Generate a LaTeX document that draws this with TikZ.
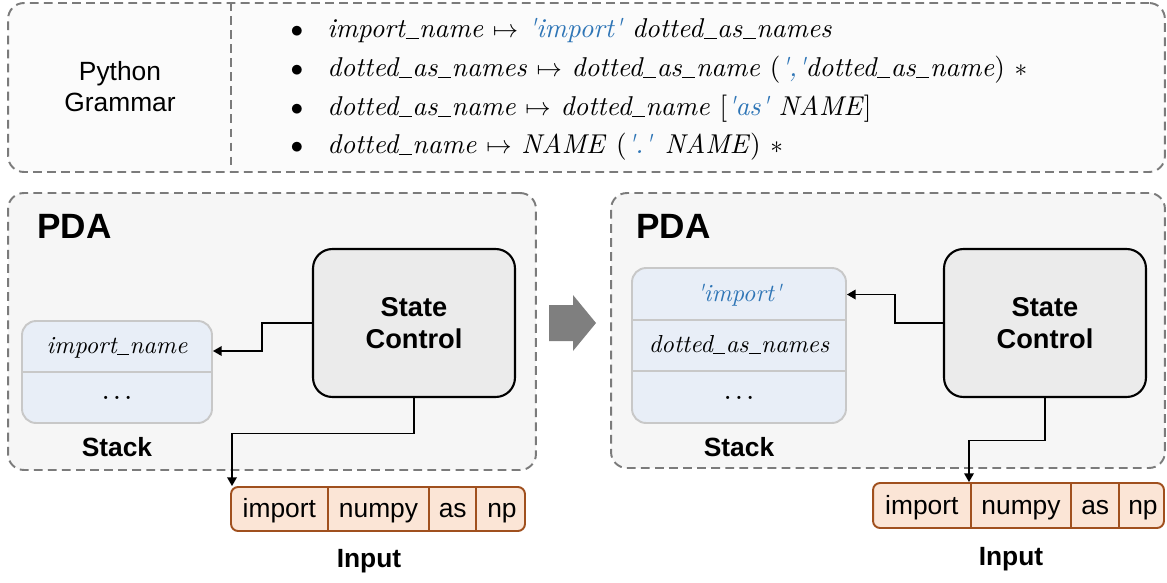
\documentclass[tikz,border=0pt]{standalone}
\usepackage{fontspec}
\setsansfont{Liberation Sans}
% Latin Modern without TeX quote ligatures, for the grammar symbols
\newfontfamily\gramfont{lmroman10-regular}[Extension=.otf, ItalicFont=lmroman10-italic]
\usetikzlibrary{arrows.meta}

\definecolor{dashgray}{HTML}{7B7B7B}
\definecolor{panelfill}{HTML}{F6F6F6}
\definecolor{gramfill}{HTML}{FBFBFB}
\definecolor{ctrlfill}{HTML}{EBEBEB}
\definecolor{stackfill}{HTML}{E8EEF7}
\definecolor{stackline}{HTML}{C8C8C8}
\definecolor{tokfill}{HTML}{FBE5D6}
\definecolor{tokline}{HTML}{A0501E}
\definecolor{kwblue}{HTML}{2E75B6}
\definecolor{bigarrow}{HTML}{7F7F7F}

% quoted keyword of the grammar
\newcommand{\kw}[1]{\textcolor{kwblue}{'#1'}}
% short underscore joining the parts of a symbol name
\newcommand{\us}{\kern0.02em\rule[-0.07em]{0.48em}{0.042em}\kern0.02em}
% three spaced dots for the rest of the stack
\newcommand{\more}{{\upshape\fontsize{17pt}{18pt}\selectfont.\kern0.1em.\kern0.1em.}}

\begin{document}
\begin{tikzpicture}[x=0.02cm, y=-0.02cm, font=\sffamily,
  panel/.style={draw=dashgray, line width=1.1pt, dash pattern=on 5pt off 3pt,
    rounded corners=9pt, fill=#1, inner sep=0pt},
  ctrl/.style={draw=black, line width=1.2pt, rounded corners=11pt, fill=ctrlfill,
    minimum width=4.04cm, minimum height=2.96cm, align=center,
    font=\sffamily\bfseries\fontsize{15.5pt}{18pt}\selectfont},
  stackbox/.style={draw=stackline, line width=1.1pt, rounded corners=8pt,
    fill=stackfill, inner sep=0pt},
  stackitem/.style={inner sep=0pt, anchor=base, font=\gramfont\itshape\fontsize{14pt}{16pt}\selectfont},
  tokbox/.style={draw=tokline, line width=1.1pt, rounded corners=4pt, fill=tokfill,
    inner sep=0pt},
  tok/.style={inner sep=0pt, anchor=west, minimum height=0.88cm,
    text height=11.5pt, text depth=1.5pt,
    font=\sffamily\fontsize{15pt}{17pt}\selectfont},
  caption/.style={inner sep=0pt, anchor=base, font=\sffamily\bfseries\fontsize{15pt}{17pt}\selectfont},
  title/.style={inner sep=0pt, anchor=west, font=\sffamily\bfseries\fontsize{20pt}{24pt}\selectfont},
  rule/.style={inner sep=0pt, anchor=base west, font=\gramfont\itshape\fontsize{15.5pt}{18pt}\selectfont},
  bul/.style={inner sep=0pt, anchor=base, font=\fontsize{14pt}{16pt}\selectfont},
  link/.style={draw=black, line width=0.85pt, -{Triangle[length=5pt,width=5.5pt]}},
  sep/.style={draw=#1, line width=1.1pt},
]
\useasboundingbox (0,0) rectangle (1167,582);

% ---------- grammar panel ----------
\node[panel=gramfill, minimum width=23.14cm, minimum height=3.38cm] (gram) at (586.5,87.5) {};
\coordinate (dv) at (231,0);
\draw[dashgray, line width=1.1pt, dash pattern=on 5pt off 3pt] (gram.north -| dv) -- (gram.south -| dv);
\node[align=center, inner sep=0pt, font=\sffamily\fontsize{15pt}{17.3pt}\selectfont] (gtitle) at (120,86.5) {Python\\Grammar};

\node[bul] (b1) at (297,37) {$\bullet$};
\node[bul] (b2) at (297,76) {$\bullet$};
\node[bul] (b3) at (297,115) {$\bullet$};
\node[bul] (b4) at (297,153) {$\bullet$};
\node[rule] (r1) at (327,37) {import\us name $\mapsto$ \kw{import} dotted\us as\us names};
\node[rule] (r2) at (327,76) {dotted\us as\us names $\mapsto$ dotted\us as\us name \textup{(}\kw{,}dotted\us as\us name\textup{)} $\ast$};
\node[rule] (r3) at (327,115) {dotted\us as\us name $\mapsto$ dotted\us name \textup{[}\kw{as} NAME\textup{]}};
\node[rule] (r4) at (327,153) {dotted\us name $\mapsto$ NAME \textup{(}\kw{.} NAME\textup{)} $\ast$};

% ---------- left automaton ----------
\node[panel=panelfill, minimum width=10.56cm, minimum height=5.54cm] (pdaL) at (272,331.5) {};
\node[title] (tL) at (37,226) {PDA};
\node[ctrl] (scL) at (414,323) {State\\Control};
\node[stackbox, minimum width=3.8cm, minimum height=2.04cm] (stkL) at (117,372) {};
\draw[sep=stackline] (22,372) -- (212,372);
\node[stackitem] (sL1) at (117,353) {import\us name};
\node[stackitem] (sL2) at (117,399) {\more};
\node[caption] (capSL) at (117,456) {Stack};

\node[tokbox, minimum width=5.88cm, minimum height=0.88cm] (inL) at (378,509) {};
\node[tok, minimum width=1.92cm] (tL1) at (231,509) {import};
\node[tok, minimum width=2.02cm] (tL2) at (tL1.east) {numpy};
\node[tok, minimum width=0.92cm] (tL3) at (tL2.east) {as};
\node[tok, minimum width=1.02cm] (tL4) at (tL3.east) {np};
\draw[sep=tokline] (tL1.north east) -- (tL1.south east);
\draw[sep=tokline] (tL2.north east) -- (tL2.south east);
\draw[sep=tokline] (tL3.north east) -- (tL3.south east);
\node[caption] (capIL) at (369,567.5) {Input};

\coordinate (kL) at (262,351);
\draw[link] (scL.west) -| (kL) -- (stkL.east |- kL);
\coordinate (jL) at (232,433.5);
\draw[link] (scL.south) |- (jL) -- (jL |- inL.north);

% ---------- transition arrow ----------
\fill[bigarrow] (549,305) -- (573,305) -- (573,295) -- (596,323) -- (573,351) -- (573,341) -- (549,341) -- cycle;

% ---------- right automaton ----------
\node[panel=panelfill, minimum width=11.08cm, minimum height=5.5cm] (pdaR) at (888,330.5) {};
\node[title] (tR) at (636,226) {PDA};
\node[ctrl] (scR) at (1045,323) {State\\Control};
\node[stackbox, minimum width=4.28cm, minimum height=3.1cm] (stkR) at (739,345.5) {};
\draw[sep=stackline] (632,319.7) -- (846,319.7);
\draw[sep=stackline] (632,371.3) -- (846,371.3);
\node[stackitem, text=kwblue] (sR1) at (739,301.5) {'import'};
\node[stackitem] (sR2) at (739,352.5) {dotted\us as\us names};
\node[stackitem] (sR3) at (739,399) {\more};
\node[caption] (capSR) at (739,456) {Stack};

\node[tokbox, minimum width=5.82cm, minimum height=0.9cm] (inR) at (1018.5,505.5) {};
\node[tok, minimum width=1.94cm] (tR1) at (873,505.5) {import};
\node[tok, minimum width=2.0cm] (tR2) at (tR1.east) {numpy};
\node[tok, minimum width=0.94cm] (tR3) at (tR2.east) {as};
\node[tok, minimum width=0.94cm] (tR4) at (tR3.east) {np};
\draw[sep=tokline] (tR1.north east) -- (tR1.south east);
\draw[sep=tokline] (tR2.north east) -- (tR2.south east);
\draw[sep=tokline] (tR3.north east) -- (tR3.south east);
\node[caption] (capIR) at (1011,565.5) {Input};

\coordinate (kR) at (895,294.5);
\draw[link] (scR.west) -| (kR) -- (stkR.east |- kR);
\coordinate (jR) at (969,440.5);
\draw[link] (scR.south) |- (jR) -- (jR |- inR.north);
\end{tikzpicture}
\end{document}
